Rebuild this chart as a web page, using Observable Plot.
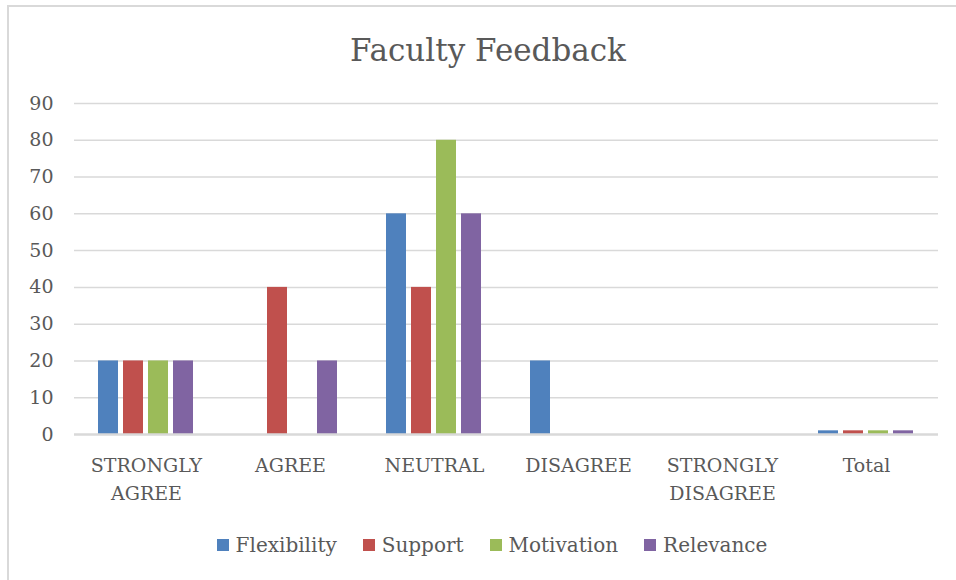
<!DOCTYPE html>
<html>
<head>
<meta charset="utf-8">
<script src="https://cdn.jsdelivr.net/npm/d3@7"></script>
<script src="https://cdn.jsdelivr.net/npm/@observablehq/plot@0.6"></script>
<style>
  html, body { margin: 0; padding: 0; background: #fff; }
  #wrap { position: relative; width: 956px; height: 580px; overflow: hidden; font-family: "DejaVu Serif", serif; color: #595959; }
  #border { position: absolute; left: 7px; top: 5px; width: 960px; height: 600px; border-left: 2px solid #d9d9d9; border-top: 2px solid #d9d9d9; }
  #title { position: absolute; left: 0; width: 976px; top: 32px; text-align: center; font-size: 31px; }
  #chart { position: absolute; left: 0; top: 0; }
  #legend { position: absolute; left: 0; width: 984px; top: 533px; display: flex; justify-content: center; gap: 26px; font-size: 20px; }
  .item { display: flex; align-items: center; gap: 7px; }
  .sw { width: 12px; height: 12px; display: inline-block; }
</style>
</head>
<body>
<div id="wrap">
  <div id="border"></div>
  <div id="title">Faculty Feedback</div>
  <div id="chart"></div>
  <div id="legend"></div>
</div>
<script>
const categories = ["STRONGLY AGREE", "AGREE", "NEUTRAL", "DISAGREE", "STRONGLY DISAGREE", "Total"];
const seriesNames = ["Flexibility", "Support", "Motivation", "Relevance"];
const colors = ["#4F81BD", "#C0504D", "#9BBB59", "#8064A2"];
const flexibility = [20, 0, 60, 20, 0, 1];
const support     = [20, 40, 40, 0, 0, 1];
const motivation  = [20, 0, 80, 0, 0, 1];
const relevance   = [20, 20, 60, 0, 0, 1];
const yTicks = [0, 10, 20, 30, 40, 50, 60, 70, 80, 90];

const seriesValues = [flexibility, support, motivation, relevance];
const data = [];
categories.forEach((c, i) => {
  seriesNames.forEach((s, j) => {
    data.push({category: c, series: s, value: seriesValues[j][i]});
  });
});

const chart = Plot.plot({
  width: 956,
  height: 520,
  marginLeft: 73,
  marginRight: 18,
  marginTop: 103,
  marginBottom: 86,
  style: {fontFamily: "DejaVu Serif, serif", fontSize: "19px", color: "#595959", background: "transparent"},
  fx: {domain: categories, padding: 0, label: null, axis: null},
  x: {domain: seriesNames, paddingInner: 0.19, paddingOuter: 0.88, axis: null},
  y: {domain: [0, 90], ticks: yTicks, label: null, axis: null},
  color: {domain: seriesNames, range: colors},
  marks: [
    Plot.ruleY(yTicks.filter(t => t > 0), {stroke: "#d9d9d9", strokeWidth: 1.5}),
    Plot.barY(data, {fx: "category", x: "series", y: "value", fill: "series"}),
    Plot.ruleY([0], {stroke: "#d9d9d9", strokeWidth: 2.5}),
    Plot.axisY({ticks: yTicks, tickSize: 0, tickPadding: 21, fontSize: 19, label: null, fill: "#595959"}),
    Plot.axisFx({anchor: "bottom", tickSize: 0, tickPadding: 18, fontSize: 19, lineHeight: 1.45, label: null, fill: "#595959",
                 tickFormat: d => d.replace(" ", "\n")})
  ]
});
document.getElementById("chart").appendChild(chart);

const legend = document.getElementById("legend");
seriesNames.forEach((s, i) => {
  const it = document.createElement("div");
  it.className = "item";
  const sw = document.createElement("span");
  sw.className = "sw";
  sw.style.background = colors[i];
  const t = document.createElement("span");
  t.textContent = s;
  it.appendChild(sw); it.appendChild(t);
  legend.appendChild(it);
});
</script>
</body>
</html>
